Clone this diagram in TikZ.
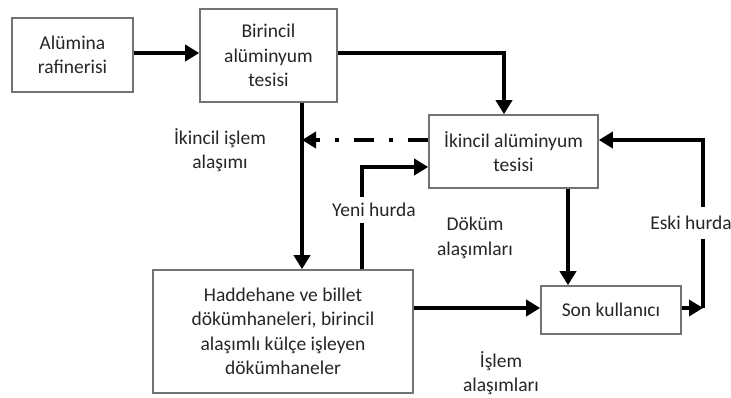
\documentclass[tikz,border=0pt]{standalone}
\usepackage{fontspec}
\setmainfont{Carlito}
\usetikzlibrary{positioning,arrows.meta}

\tikzset{
	box/.style={draw=black!55, line width=1.6pt, fill=white, align=center, inner sep=0pt},
	flow/.style={line width=4.5pt, -{Triangle[length=14pt,width=16pt]}},
	dashdot/.style={flow, dash pattern=on 20pt off 15pt on 4pt off 15pt},
	lbl/.style={align=center, fill=white, inner xsep=1pt, inner ysep=6pt},
	note/.style={align=center, inner sep=1pt},
}

\begin{document}
\begin{tikzpicture}[x=1pt, y=-1pt, font=\fontsize{19.5}{24.5}\selectfont, text=black!85]
	\useasboundingbox (0,0) rectangle (731,397);

	\node[box, minimum width=121pt, minimum height=74pt] (alumina) at (72.5, 55) {Alümina\\rafinerisi};
	\node[box, minimum width=137pt, minimum height=93pt] (birincil) at (268.5, 55.5) {Birincil\\alüminyum\\tesisi};
	\node[box, minimum width=169pt, minimum height=73pt] (ikincil) at (513.5, 151.5) {İkincil alüminyum\\tesisi};
	\node[box, minimum width=260pt, minimum height=123pt] (hadde) at (283, 331.5) {Haddehane ve billet\\dökümhaneleri, birincil\\alaşımlı külçe işleyen\\dökümhaneler};
	\node[box, minimum width=140pt, minimum height=48pt] (son) at (611, 310) {Son kullanıcı};

	\coordinate (bt) at ([xshift=33.5pt]birincil.south);
	\coordinate (ek) at (703, 308);

	\draw[flow] (alumina.east |- 0,53) -- (birincil.west |- 0,53);
	\draw[flow] (birincil.east |- 0,53) -| ([xshift=-9.5pt]ikincil.north);
	\draw[flow] (bt) -- (bt |- hadde.north);
	\draw[dashdot] ([yshift=11.5pt]ikincil.west) -- ([yshift=11.5pt]ikincil.west -| bt);
	\draw[flow] ([xshift=79pt]hadde.north) |- ([yshift=-15.5pt]ikincil.west);
	\draw[flow] ([xshift=54.5pt]ikincil.south) -- ([xshift=54.5pt]ikincil.south |- son.north);
	\draw[flow] (hadde.east |- ek) -- (son.west |- ek);
	\draw[flow] (son.east |- ek) -- (ek);
	\draw[flow] (ek) |- ([yshift=11.5pt]ikincil.east);

	\node[note] (islemal) at (220, 150) {İkincil işlem\\alaşımı};
	\node[lbl] (yeni) at (374, 210) {Yeni hurda};
	\node[note] (dokum) at (475, 238) {Döküm\\alaşımları};
	\node[lbl, inner ysep=9pt] (eski) at (691, 223) {Eski hurda};
	\node[note] (islem) at (501, 373) {İşlem\\alaşımları};

\end{tikzpicture}
\end{document}
